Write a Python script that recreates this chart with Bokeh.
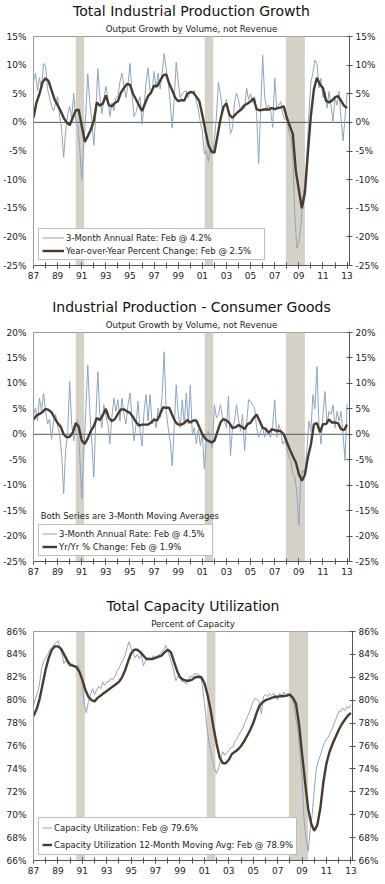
import numpy as np
import pandas as pd
from bokeh.plotting import figure
from bokeh.models import (Range1d, LinearAxis, FixedTicker, PrintfTickFormatter, Span,
                          BoxAnnotation, Legend, LegendItem, Title, Label)
from bokeh.layouts import column
from bokeh.embed import file_html
from bokeh.resources import INLINE

# ---------------- data ----------------
bi_dates = pd.date_range("1987-01-01", "2013-01-01", freq="2MS")   # bimonthly
q_dates = pd.date_range("1987-01-01", "2013-01-01", freq="QS")     # quarterly

rec_start = [1990.5, 2001.2, 2007.92]
rec_end = [1991.2, 2001.9, 2009.5]

# Total Industrial Production: 3-month annual rate (bimonthly readings)
ip_3m = [
    7.1, 8.6, 5.5, 7.8, 5.8, 10.3,
    9.9, 5.8, 4.3, 2.8, 2.0, 3.4,
    4.5, 1.1, -1.2, -6.1, -1.5, 1.4,
    2.8, 0.8, 5.1, 0.5, -0.5, -4.5,
    -10.1, -4.0, 1.5, 8.5, 3.5, 0.5,
    -4.0, 1.5, 9.4, 4.5, 1.5, 4.0,
    6.3, 4.3, 1.0, 3.4, 2.0, 4.3,
    4.6, 7.1, 8.6, 6.3, 4.3, 6.5,
    10.3, 5.0, 1.0, 1.7, 3.4, 4.5,
    -0.3, 2.9, 7.0, 9.5, 5.5, 5.5,
    8.9, 6.0, 8.6, 5.8, 8.5, 12.0,
    9.4, 7.0, 3.5, -1.0, 4.0, 10.5,
    7.0, 4.3, 5.0, 5.4, 5.5, 4.3,
    5.4, 5.1, 5.6, 3.7, 2.2, 0.0,
    -1.5, -5.5, -5.0, -6.8, -4.5, -5.5,
    -3.0, 1.0, 7.0, 5.0, 2.0, 3.0,
    4.0, 2.0, -2.0, -1.0, 3.5, 5.1,
    4.0, 2.0, 3.0, 2.5, 6.0, 4.0,
    5.0, 3.5, 4.5, 1.5, -7.2, 2.0,
    11.7, 4.5, 2.3, 3.0, 2.0, -0.9,
    7.7, 2.5, 3.0, 3.6, 1.4, 0.5,
    0.8, -1.5, -2.5, -6.0, -16.0, -22.0,
    -21.0, -18.0, -13.0, -11.0, -6.0, 1.5,
    7.0, 8.6, 10.9, 10.3, 6.0, 7.7,
    4.3, 5.4, 2.5, 5.4, 3.0, 0.2,
    4.3, 3.0, 5.4, 0.5, -3.2, 1.0,
    5.0,
]
# Total Industrial Production: year-over-year (quarterly readings)
ip_yoy = [
    0.8, 3.5, 5.0, 7.0,
    7.7, 7.2, 5.6, 4.0,
    3.0, 2.0, 0.8, 0.0,
    -0.5, 0.8, 2.1, 2.2,
    -0.6, -3.4, -2.4, -1.3,
    0.3, 3.5, 2.9, 3.3,
    4.7, 3.0, 2.8, 3.4,
    3.7, 5.2, 6.0, 6.7,
    6.6, 5.0, 4.0, 3.0,
    2.0, 3.3, 4.6, 5.2,
    6.4, 6.3, 7.3, 8.2,
    8.4, 6.8, 5.6, 4.3,
    3.7, 3.9, 3.8, 5.0,
    5.3, 5.2, 4.5, 3.7,
    1.3, -1.4, -3.9, -5.1,
    -5.3, -2.4, 0.5, 2.7,
    3.3, 1.3, 0.8, 1.4,
    1.9, 2.3, 3.0, 3.3,
    3.7, 4.2, 2.3, 2.1,
    2.2, 2.3, 2.2, 2.5,
    2.3, 2.5, 2.6, 2.8,
    0.8, -0.6, -2.0, -8.5,
    -11.8, -15.0, -12.3, -5.3,
    1.2, 5.8, 7.8, 6.6,
    6.0, 3.8, 3.5, 3.8,
    4.4, 4.6, 3.8, 2.9,
    2.5,
]

# Consumer Goods: 3-month annual rate (bimonthly readings)
cg_3m = [
    3.6, 5.2, 2.6, 7.1, 4.5, 8.1,
    4.5, 2.0, 3.0, -1.0, 2.6, 3.9,
    1.6, 0.0, -3.9, -11.7, -3.0, 0.0,
    10.4, 2.0, -1.3, 1.3, 2.9, -4.0,
    -12.7, -4.0, 4.5, 13.6, 4.5, -1.3,
    -8.4, 3.0, 12.3, 4.0, 1.3, 5.8,
    3.6, 2.0, -1.9, 3.5, 7.1, 4.5,
    6.8, 2.6, 7.1, 3.9, 2.0, 5.8,
    8.1, 3.2, -1.3, 2.0, 6.5, 0.6,
    -2.3, 4.5, 7.8, 2.6, 7.8, 2.0,
    3.2, 1.3, 5.2, 3.2, 7.8, 16.2,
    4.5, 1.3, -1.3, -6.2, 1.3, 9.7,
    3.9, 1.3, 6.8, 2.0, 8.1, 2.0,
    9.7, 0.0, 1.3, -1.9, 1.0, -2.2,
    0.0, -6.8, -0.6, 0.6, -1.3, -2.6,
    5.8, 3.2, 3.9, 5.8, 3.5, 2.6,
    1.3, 7.5, -4.2, 1.3, 2.6, 5.8,
    3.0, 0.6, 3.9, -3.2, 2.0, 6.8,
    6.5, 5.8, 5.2, 1.3, -0.6, 0.6,
    1.3, -0.6, 1.3, 0.0, -0.6, 1.9,
    6.8, -0.6, 1.9, 0.6, -1.9, -1.3,
    -2.6, -4.5, -5.2, -7.8, -8.4, -11.4,
    -17.9, -8.4, -7.1, -7.8, -3.2, 2.6,
    0.6, 7.8, 5.0, 13.3, 2.0, -1.9,
    3.9, 8.4, 2.0, 4.5, 3.9, 5.8,
    1.3, 4.5, 2.6, 4.5, 0.0, -5.2,
    6.0,
]
# Consumer Goods: year-over-year (quarterly readings)
cg_yoy = [
    2.9, 3.7, 4.0, 4.4,
    5.0, 4.8, 4.3, 3.2,
    2.2, 1.5, 0.0, -0.6,
    -0.5, 0.3, 2.2, 1.5,
    -1.2, -1.9, -0.8, 0.6,
    1.6, 3.2, 2.8, 3.8,
    5.0, 3.2, 2.6, 3.0,
    4.0, 4.9, 4.9, 4.5,
    4.2, 3.4, 2.4, 1.7,
    1.9, 1.9, 1.9, 2.3,
    2.9, 2.7, 4.0, 5.3,
    5.2, 5.2, 3.8, 2.5,
    1.9, 1.9, 2.2, 2.8,
    2.3, 2.7, 2.7, 1.4,
    0.0, -0.9, -1.3, -1.6,
    -1.3, 0.5, 2.3, 3.0,
    2.7, 2.2, 1.2, 1.4,
    1.8, 1.5, 1.0, 2.0,
    2.3, 3.2, 3.9, 2.6,
    1.3, 1.0, 0.3, 1.0,
    0.8, 0.7, 0.6, 0.0,
    -1.5, -3.0, -4.3, -5.5,
    -7.8, -9.1, -8.0, -4.5,
    -2.0, 2.0, 2.2, 0.4,
    2.0, 2.0, 2.9, 2.3,
    2.3, 2.2, 1.0, 0.8,
    1.9,
]

# Capacity utilization (bimonthly readings)
cu = [
    79.5, 80.2, 80.6, 81.5, 82.8, 83.4,
    83.7, 84.0, 84.4, 84.6, 84.8, 85.0,
    85.2, 84.6, 84.0, 83.2, 83.5, 83.1,
    82.9, 83.2, 83.0, 82.9, 83.0, 82.4,
    81.3, 79.6, 78.9, 79.9, 80.5, 81.0,
    80.5, 80.9, 81.2, 81.0, 81.6, 81.3,
    81.6, 81.6, 81.9, 81.8, 82.1, 82.5,
    82.8, 83.2, 83.5, 83.9, 84.6, 85.1,
    84.5, 84.1, 83.7, 84.0, 83.6, 84.0,
    83.0, 83.4, 83.7, 83.6, 83.6, 83.9,
    83.7, 83.9, 84.0, 84.2, 84.4, 84.8,
    84.3, 83.8, 83.2, 82.5, 81.7, 82.1,
    82.0, 81.6, 81.6, 81.4, 81.8, 82.1,
    82.0, 82.3, 82.3, 82.3, 82.1, 81.3,
    79.8, 78.0, 76.7, 75.6, 74.8, 74.0,
    73.6, 74.1, 74.8, 75.5, 75.2, 75.4,
    75.6, 75.9, 75.9, 76.4, 76.6, 77.0,
    77.3, 77.6, 78.1, 78.5, 78.9, 79.4,
    79.9, 80.2, 80.0, 79.9, 78.8, 80.3,
    80.5, 80.3, 80.6, 80.4, 80.6, 80.2,
    80.0, 80.6, 80.4, 80.7, 80.4, 80.6,
    80.3, 80.2, 79.6, 78.4, 77.3, 75.3,
    73.0, 69.5, 67.8, 66.8, 68.7, 70.1,
    72.2, 74.0, 74.7, 75.2, 75.8, 76.3,
    76.6, 76.8, 77.2, 77.6, 78.1, 78.5,
    79.0, 79.0, 79.3, 79.1, 79.4, 79.3,
    79.6,
]
# Capacity utilization 12-month moving average (quarterly readings)
cu_ma = [
    78.6, 79.2, 80.1, 81.4,
    82.7, 83.7, 84.4, 84.7,
    84.7, 84.5, 84.0, 83.5,
    83.1, 83.0, 82.9, 82.5,
    81.8, 80.9, 80.3, 80.0,
    79.9, 80.2, 80.4, 80.6,
    80.8, 81.0, 81.2, 81.4,
    81.6, 82.0, 82.6, 83.4,
    84.1, 84.4, 84.4, 84.2,
    83.9, 83.6, 83.6, 83.6,
    83.7, 83.8, 83.9, 84.2,
    84.4, 84.2, 83.4, 82.6,
    82.0, 81.8, 81.7, 81.7,
    81.8, 82.0, 82.05, 82.0,
    81.5, 80.5, 79.2, 77.6,
    76.2, 75.0, 74.5, 74.5,
    74.8, 75.3, 75.5, 75.7,
    76.0, 76.4, 76.9, 77.4,
    78.0, 78.8, 79.5, 79.8,
    80.0, 80.1, 80.2, 80.3,
    80.3, 80.35, 80.35, 80.4,
    80.5, 80.2, 79.7, 77.9,
    75.3, 72.8, 70.5, 69.2,
    68.6, 69.1, 70.6, 72.9,
    74.5, 75.5, 76.2, 76.8,
    77.4, 77.9, 78.3, 78.65,
    78.9,
]

year_ticks = list(range(1987, 2014, 2))
year_minor = list(range(1987, 2014))
year_labels = {y: "%02d" % (y % 100) for y in year_ticks}

# ---------------- styling ----------------
FONT = "DejaVu Sans"
BLUE = "#8aa6c1"
DARK = "#4b3b2f"
REC = "#d5d1c6"
AX_DARK = "#555555"
AX_LIGHT = "#9a9a9a"
TXT = "#222222"


def dec_year(d):
    return np.asarray(d.year + (d.month - 1) / 12.0, dtype=float)


def make_chart(main, sub, y0, y1, ystep, xend, blue_vals, dark_vals,
               blue_label, dark_label, fw, bl, br, bb,
               leg_lh, leg_sp, leg_lw, leg_gw, zero_line=True):
    p = figure(frame_width=fw, frame_height=229, x_range=Range1d(1987, xend),
               y_range=Range1d(y0, y1), output_backend="svg",
               toolbar_location=None, title=main,
               min_border_left=bl, min_border_right=br,
               min_border_top=30, min_border_bottom=bb)
    p.background_fill_color = "white"
    p.border_fill_color = "white"
    p.xgrid.visible = False
    p.ygrid.visible = False
    p.outline_line_color = AX_LIGHT
    p.outline_line_width = 1

    p.title.text_font = FONT
    p.title.text_font_size = "14px"
    p.title.text_font_style = "normal"
    p.title.text_color = "#111111"
    p.title.align = "center"
    p.title.standoff = 0
    p.add_layout(Title(text=sub, align="center", text_font=FONT,
                       text_font_size="8.6px", text_font_style="normal",
                       text_color=TXT, standoff=6), "above")

    for s, e in zip(rec_start, rec_end):
        p.add_layout(BoxAnnotation(left=s, right=e, fill_color=REC, fill_alpha=1.0,
                                   line_alpha=0, level="underlay"))
    if zero_line:
        p.add_layout(Span(location=0, dimension="width", line_color=AX_DARK,
                          line_width=1, level="underlay"))

    rb = p.line(dec_year(bi_dates), blue_vals, line_color=BLUE, line_width=1)
    rd = p.line(dec_year(q_dates), dark_vals, line_color=DARK, line_width=2.4)

    # x axis
    xa = p.xaxis[0]
    xa.ticker = FixedTicker(ticks=year_ticks, minor_ticks=year_minor)
    xa.major_label_overrides = year_labels
    xa.axis_line_color = AX_DARK
    xa.major_tick_line_color = AX_DARK
    xa.minor_tick_line_color = AX_DARK
    xa.major_tick_in = 3
    xa.major_tick_out = 3
    xa.minor_tick_in = 3
    xa.minor_tick_out = 3
    xa.major_label_standoff = 3
    xa.major_label_text_font = FONT
    xa.major_label_text_font_size = "9px"
    xa.major_label_text_color = TXT

    yt = list(range(y0, y1 + 1, ystep))
    ya = p.yaxis[0]
    ya.ticker = FixedTicker(ticks=yt)
    ya.formatter = PrintfTickFormatter(format="%d%%")
    ya.axis_line_color = AX_LIGHT
    ya.major_tick_in = 0
    ya.major_tick_out = 0
    ya.minor_tick_in = 0
    ya.minor_tick_out = 0
    ya.major_label_standoff = 7
    ya.major_label_text_font = FONT
    ya.major_label_text_font_size = "9px"
    ya.major_label_text_color = TXT

    ra = LinearAxis(ticker=FixedTicker(ticks=yt),
                    formatter=PrintfTickFormatter(format="%d%%"),
                    axis_line_color=AX_DARK, major_tick_line_color=AX_DARK,
                    major_tick_in=3, major_tick_out=3,
                    minor_tick_in=0, minor_tick_out=0,
                    major_label_standoff=3,
                    major_label_text_font=FONT,
                    major_label_text_font_size="9px",
                    major_label_text_color=TXT)
    p.add_layout(ra, "right")

    leg = Legend(items=[LegendItem(label=blue_label, renderers=[rb]),
                        LegendItem(label=dark_label, renderers=[rd])],
                 location=(5, 5), orientation="vertical",
                 border_line_color="#7f7f7f", border_line_width=1,
                 background_fill_color="white", background_fill_alpha=1.0,
                 label_text_font=FONT, label_text_font_size="8.5px",
                 label_text_color=TXT, label_width=leg_lw,
                 glyph_width=leg_gw, glyph_height=leg_lh, label_height=leg_lh,
                 spacing=leg_sp, padding=3, margin=0, label_standoff=2)
    p.add_layout(leg)
    return p


p1 = make_chart("Total Industrial Production Growth",
                "Output Growth by Volume, not Revenue",
                -25, 15, 5, 2013.2, ip_3m, ip_yoy,
                "3-Month Annual Rate: Feb @ 4.2%",
                "Year-over-Year Percent Change: Feb @ 2.5%",
                316, 30, 32, 31, 11, 2, 195, 22)

p2 = make_chart("Industrial Production - Consumer Goods",
                "Output Growth by Volume, not Revenue",
                -25, 20, 5, 2013.2, cg_3m, cg_yoy,
                "3-Month Annual Rate: Feb @ 4.5%",
                "Yr/Yr % Change: Feb @ 1.9%",
                316, 30, 32, 34, 11, 2, 150, 15)
p2.add_layout(Label(x=1987.6, y=-16.0, text="Both Series are 3-Month Moving Averages",
                    text_font=FONT, text_font_size="8.5px", text_color=TXT,
                    text_baseline="middle"))

p3 = make_chart("Total Capacity Utilization", "Percent of Capacity",
                66, 86, 2, 2013.13, cu, cu_ma,
                "Capacity Utilization: Feb @ 79.6%",
                "Capacity Utilization 12-Month Moving Avg: Feb @ 78.9%",
                319, 27, 32, 18, 13, 4, 10, 10, zero_line=False)

layout = column(p1, p2, p3, spacing=0)
open("out.html", "w").write(file_html(layout, INLINE))
